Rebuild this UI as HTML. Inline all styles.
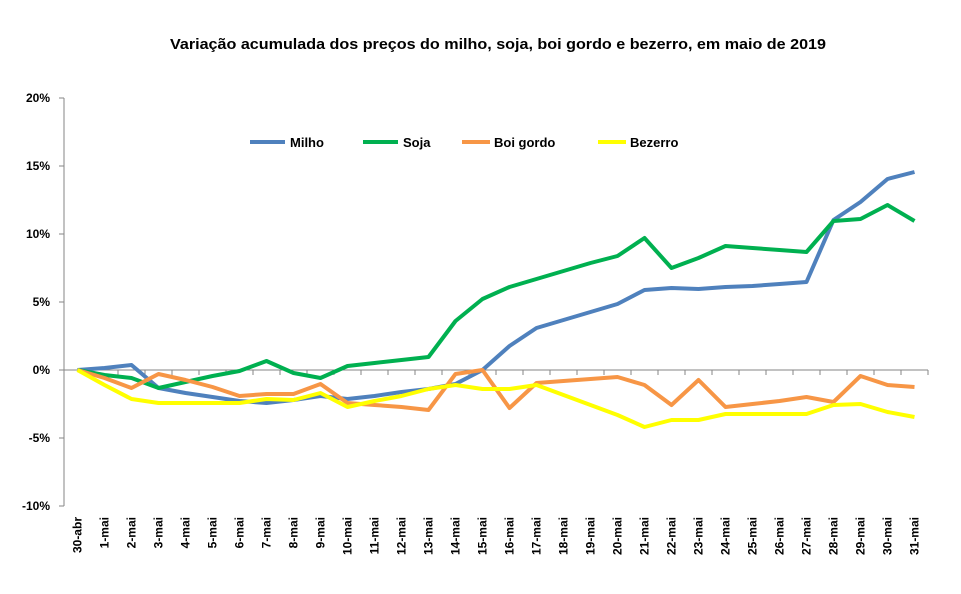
<!DOCTYPE html>
<html><head><meta charset="utf-8"><style>body{margin:0;background:#fff}svg{display:block}</style></head><body>
<svg width="961" height="594" xmlns="http://www.w3.org/2000/svg" font-family="Liberation Sans, sans-serif">
<text x="170" y="49" font-size="15" font-weight="bold" textLength="656" lengthAdjust="spacingAndGlyphs">Variação acumulada dos preços do milho, soja, boi gordo e bezerro, em maio de 2019</text>
<line x1="64" y1="98" x2="64" y2="506" stroke="#868686"/>
<g stroke="#868686">
<line x1="59" y1="98" x2="64" y2="98"/><line x1="59" y1="166" x2="64" y2="166"/><line x1="59" y1="234" x2="64" y2="234"/><line x1="59" y1="302" x2="64" y2="302"/><line x1="59" y1="370" x2="64" y2="370"/><line x1="59" y1="438" x2="64" y2="438"/><line x1="59" y1="506" x2="64" y2="506"/>
<line x1="64" y1="370" x2="928" y2="370"/>
</g>
<g font-size="12" font-weight="bold" text-anchor="end">
<text x="50" y="102">20%</text><text x="50" y="170">15%</text><text x="50" y="238">10%</text><text x="50" y="306">5%</text><text x="50" y="374">0%</text><text x="50" y="442">-5%</text><text x="50" y="510">-10%</text>
</g>
<g id="ticks" stroke="#868686"></g>
<g id="xl" font-size="12" font-weight="bold" text-anchor="end"></g>
<g fill="none" stroke-width="4" stroke-linejoin="round">
<polyline id="m" stroke="#4f81bd"/>
<polyline id="s" stroke="#00b050"/>
<polyline id="b" stroke="#f79646"/>
<polyline id="z" stroke="#ffff00"/>
</g>
<g stroke-width="4">
<line x1="250" y1="142" x2="285" y2="142" stroke="#4f81bd"/>
<line x1="363" y1="142" x2="398" y2="142" stroke="#00b050"/>
<line x1="462" y1="142" x2="490" y2="142" stroke="#f79646"/>
<line x1="598" y1="142" x2="626" y2="142" stroke="#ffff00"/>
</g>
<g font-size="13" font-weight="bold">
<text x="290" y="147">Milho</text><text x="403" y="147">Soja</text><text x="494" y="147">Boi gordo</text><text x="630" y="147">Bezerro</text>
</g>
</svg>
<script>
var x0=77.5,dx=27;
var M=[370,368,365,388,393,397,401,403,400,396,399,396,392,389,384,370,346,328,320,312,304,290,288,289,287,286,284,282,220,202,179,172];
var S=[370,375,378,388,382,376,371,361,373,378,366,363,360,357,321,299,287,279,271,263,256,238,268,258,246,248,250,252,221,219,205,221];
var B=[370,378,388,374,380,387,396,394,394,384,403,405,407,410,374,370,408,383,381,379,377,385,405,380,407,404,401,397,402,376,385,387];
var Z=[370,385,399,403,403,403,403,399,400,393,407,401,396,389,385,389,389,385,395,405,415,427,420,420,414,414,414,414,405,404,412,417];
function pts(a){return a.map(function(y,i){return (x0+i*dx)+","+y}).join(" ")}
document.getElementById("m").setAttribute("points",pts(M));
document.getElementById("s").setAttribute("points",pts(S));
document.getElementById("b").setAttribute("points",pts(B));
document.getElementById("z").setAttribute("points",pts(Z));
var ns="http://www.w3.org/2000/svg",t=document.getElementById("ticks"),xl=document.getElementById("xl");
for(var i=0;i<=32;i++){var l=document.createElementNS(ns,"line");var x=64+i*27;l.setAttribute("x1",x);l.setAttribute("x2",x);l.setAttribute("y1",370);l.setAttribute("y2",375);t.appendChild(l);}
for(var i=0;i<32;i++){var tx=document.createElementNS(ns,"text");var x=x0+i*dx+4;tx.setAttribute("transform","translate("+x+",517) rotate(-90)");tx.textContent=i==0?"30-abr":i+"-mai";xl.appendChild(tx);}
</script>
</body></html>
